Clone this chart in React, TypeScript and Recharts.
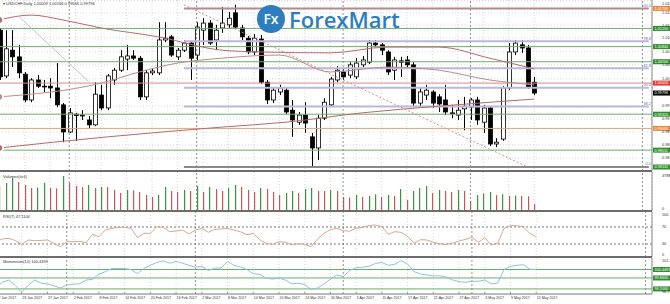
import React from "react";
import {
  ComposedChart,
  Bar,
  Line,
  XAxis,
  YAxis,
  CartesianGrid,
  ReferenceLine,
} from "recharts";

// USDCHF daily bars, 17 Jan 2017 .. 15 May 2017
const tickLabels = [
  "17 Jan 2017", "23 Jan 2017", "27 Jan 2017", "2 Feb 2017", "8 Feb 2017", "14 Feb 2017",
  "20 Feb 2017", "24 Feb 2017", "2 Mar 2017", "8 Mar 2017", "14 Mar 2017", "20 Mar 2017",
  "24 Mar 2017", "30 Mar 2017", "5 Apr 2017", "11 Apr 2017", "17 Apr 2017", "21 Apr 2017",
  "27 Apr 2017", "3 May 2017", "9 May 2017", "15 May 2017",
];

const open = [
  1.0121, 1.0018, 1.0076, 1.0061, 1.0022, 0.9964, 1.0009, 0.9995, 0.9995, 0.9991,
  0.9953, 0.9892, 0.9932, 0.9928, 0.9919, 0.9908, 0.9975, 0.9946, 1.0009, 1.0031,
  1.0056, 1.0063, 1.0058, 0.9971, 1.0025, 1.0025, 1.0099, 1.0106, 1.0061, 1.0076,
  1.0092, 1.0065, 1.0121, 1.0137, 1.0099, 1.0126, 1.0133, 1.016, 1.0126, 1.0103,
  1.0072, 1.0101, 1.0004, 0.9964, 0.9982, 0.9986, 0.9941, 0.9914, 0.993, 0.9881,
  0.9856, 0.9923, 0.9953, 1.0009, 1.0027, 1.002, 1.0016, 1.0043, 1.0049, 1.0092,
  1.0088, 1.0072, 1.0031, 1.0052, 1.0054, 1.0043, 0.9957, 0.9975, 0.9982, 0.9971,
  0.9964, 0.9935, 0.993, 0.9944, 0.9948, 0.9964, 0.9914, 0.9946, 0.9865, 0.9876,
  0.9991, 1.0072, 1.0088, 1.0081, 1.0004,
];
const high = [
  1.0126, 1.0121, 1.0121, 1.0088, 1.0027, 1.0013, 1.002, 1.0009, 1.0013, 1.0047,
  0.9957, 0.9946, 0.9935, 0.9941, 0.9928, 1.0004, 0.9998, 1.0022, 1.0036, 1.0076,
  1.0088, 1.0076, 1.0063, 1.0031, 1.0034, 1.0139, 1.0139, 1.011, 1.0081, 1.0099,
  1.0097, 1.0139, 1.0148, 1.0144, 1.0133, 1.0173, 1.0162, 1.0178, 1.0133, 1.0108,
  1.0112, 1.011, 1.0009, 0.9993, 0.9998, 0.9991, 0.9964, 0.9937, 0.9959, 0.989,
  0.993, 0.9968, 1.0016, 1.004, 1.0036, 1.0049, 1.0058, 1.0063, 1.0099, 1.0099,
  1.0092, 1.0076, 1.0061, 1.0061, 1.0063, 1.0049, 0.9991, 0.9998, 0.9986, 0.9977,
  0.9998, 0.9953, 0.9964, 0.9971, 0.9968, 0.9971, 0.9953, 0.995, 0.9878, 0.9995,
  1.0092, 1.0099, 1.0099, 1.0088, 1.0016,
];
const low = [
  1.0009, 1.0013, 1.0038, 1.0013, 0.9959, 0.9959, 0.9991, 0.9982, 0.9968, 0.9948,
  0.9869, 0.989, 0.9872, 0.9919, 0.9901, 0.9905, 0.9941, 0.9941, 0.9998, 1.0027,
  1.0031, 1.0054, 0.9964, 0.9964, 1.002, 1.002, 1.0094, 1.0061, 1.0054, 1.0072,
  1.0009, 1.0054, 1.0088, 1.0088, 1.0076, 1.0115, 1.0126, 1.0124, 1.0099, 1.0067,
  1.0065, 1.0, 0.9955, 0.9957, 0.9975, 0.9932, 0.9881, 0.9908, 0.989, 0.9813,
  0.9829, 0.9919, 0.9948, 1.0004, 1.0009, 1.0013, 1.0011, 1.0038, 1.0045, 1.0083,
  1.0065, 1.002, 1.0009, 1.0016, 1.0036, 0.995, 0.995, 0.9964, 0.9946, 0.9937,
  0.993, 0.9923, 0.9919, 0.9896, 0.9919, 0.9908, 0.989, 0.986, 0.9858, 0.9872,
  0.9986, 1.0065, 1.007, 0.9989, 0.9975,
];
const close = [
  1.0016, 1.0079, 1.0061, 1.0025, 0.9964, 1.0009, 0.9995, 0.9994, 0.9991, 0.9953,
  0.9892, 0.9935, 0.9929, 0.993, 0.9908, 0.9977, 0.9946, 1.0018, 1.0031, 1.0061,
  1.0063, 1.0058, 0.9971, 1.0025, 1.0029, 1.0099, 1.0103, 1.0065, 1.0076, 1.0092,
  1.0058, 1.0128, 1.0137, 1.0092, 1.0121, 1.0137, 1.0148, 1.0128, 1.0106, 1.0072,
  1.0103, 1.0004, 0.9964, 0.9986, 0.9991, 0.9937, 0.9919, 0.993, 0.9912, 0.9856,
  0.9923, 0.9959, 1.0011, 1.0031, 1.0016, 1.0043, 1.0047, 1.0054, 1.0092, 1.0088,
  1.0076, 1.0027, 1.0054, 1.0049, 1.0043, 0.9957, 0.9982, 0.9986, 0.9957, 0.9955,
  0.9937, 0.9934, 0.9941, 0.995, 0.9964, 0.9919, 0.9946, 0.9865, 0.9869, 0.9991,
  1.0072, 1.0092, 1.0081, 0.9993, 0.99796,
];

const volume = [
  31000, 35300, 41600, 36500, 32800, 29000, 29500, 35300, 29000, 28500,
  44000, 35300, 31500, 30200, 32800, 29000, 30200, 30000, 26500, 22700,
  26500, 26000, 23900, 20200, 17600, 20200, 30200, 25200, 23900, 26500,
  25200, 31500, 23900, 30200, 27700, 25200, 29000, 32800, 30200, 26500,
  23900, 29000, 27700, 23900, 20200, 22700, 25200, 22700, 27700, 29000,
  25200, 25200, 26500, 25200, 17600, 17000, 20200, 17600, 18900, 21000,
  17600, 20200, 18900, 27700, 14000, 25200, 29000, 31500, 22700, 26500,
  25200, 24000, 26500, 25200, 12600, 20000, 22000, 24000, 20000, 21000,
  19000, 19500, 19000, 18500, 8800,
];

const rsi7 = [
  35.5, 41.8, 43.4, 38, 29.1, 39.4, 37.8, 38.5, 39.4, 31.6,
  23.7, 35.5, 35.5, 36, 33.1, 52.7, 47.2, 62.9, 66.9, 69.2,
  69.2, 66.9, 44.9, 55.1, 55.1, 70.8, 69.2, 59, 60.6, 62.9,
  53.5, 62.9, 66.9, 57.5, 64.5, 65.3, 66.9, 62.9, 59, 52,
  55, 40, 31.6, 29.1, 35.5, 34, 27.6, 30.8, 29.1, 23.7,
  41.8, 55.1, 63.7, 66.9, 61.4, 60, 66.9, 69.2, 73.2, 74.8,
  70.8, 52.7, 59, 57.5, 48.1, 31.6, 40.2, 39.4, 34, 30.8,
  28.4, 32.3, 37, 40.9, 45.6, 34, 44.9, 27.6, 31.6, 66.9,
  73.2, 73.2, 70, 55.1, 47.1104,
];

const momentum14 = [
  99.23, 99.56, 99.72, 99.34, 98.89, 99.34, 99.72, 99.5, 99.45, 99.32,
  99.16, 99.36, 99.43, 99.45, 99.72, 99.76, 100.12, 100.3, 100.52, 100.52,
  100.52, 100.45, 100.16, 100.52, 100.74, 100.94, 101.05, 100.89, 101.01, 100.89,
  100.74, 100.61, 100.67, 100.38, 100.54, 100.56, 101.01, 100.74, 100.63, 100.45,
  100.16, 100.12, 99.85, 99.78, 99.85, 99.72, 99.45, 99.5, 99.41, 99.05,
  99.16, 99.45, 99.78, 100.07, 99.96, 100.38, 100.58, 100.61, 100.67, 100.87,
  100.94, 100.74, 100.81, 101.07, 100.83, 100.3, 100.14, 100.07, 100.01, 100.01,
  99.92, 99.72, 99.61, 99.56, 99.63, 99.63, 99.72, 99.45, 99.5, 100.45,
  100.67, 100.74, 100.78, 100.47, 100.4499,
];

// moving averages and drawn lines, read at a few bars
const maSlowIdx = [0, 5, 10, 16, 25, 35, 41, 52, 61, 69, 77, 84];
const maSlowVal = [1.0144, 1.0155, 1.0144, 1.0126, 1.0106, 1.0076, 1.0072, 1.007, 1.0083, 1.0083, 1.0058, 1.0034];
const maMidIdx = [0, 16, 22, 28, 35, 44, 52, 61, 69, 77, 84];
const maMidVal = [0.9971, 1.0002, 1.0027, 1.0047, 1.0058, 1.0065, 1.0027, 1.0038, 1.0031, 1.0009, 0.9998];
const maLongIdx = [0, 17, 35, 45, 57, 69, 84];
const maLongVal = [0.9856, 0.9881, 0.9903, 0.9914, 0.9935, 0.995, 0.9966];
const greyIdx = [3, 14];
const greyVal = [1.0153, 1.0006];
const trendIdx = [29, 83];
const trendVal = [1.0178, 0.9813];

// levels
const greenLevels = [1.0125, 1.0084, 1.005, 0.9932, 0.98511];
const fibLevels = [
  { name: "100.0", v: 1.017 },
  { name: "78.6", v: 1.0096 },
  { name: "61.8", v: 1.00355 },
  { name: "50.0", v: 0.99916 },
  { name: "38.2", v: 0.99495 },
  { name: "0.0", v: 0.98132 },
];
const priceTicks = [1.0187, 1.01595, 1.0132, 1.01035, 1.00725, 1.0043, 1.00115, 0.99505, 0.9921, 0.9892, 0.9863, 0.98335];
const separators = [11, 31, 54, 74, 101];
const momLevels = [99.86, 99.1];

const SLOTS = 103;
const FIB_START = 29;

const toMap = (idx: number[], val: number[]) => new Map(idx.map((k, j) => [k, val[j]]));
const maSlow = toMap(maSlowIdx, maSlowVal);
const maMid = toMap(maMidIdx, maMidVal);
const maLong = toMap(maLongIdx, maLongVal);
const grey = toMap(greyIdx, greyVal);
const trend = toMap(trendIdx, trendVal);

const rows = Array.from({ length: SLOTS }, (_, i) => ({
  i,
  o: open[i],
  h: high[i],
  l: low[i],
  c: close[i],
  v: volume[i],
  up: i > 0 && volume[i] > volume[i - 1],
  rsi: rsi7[i],
  mom: momentum14[i],
  maSlow: maSlow.get(i) ?? null,
  maMid: maMid.get(i) ?? null,
  maLong: maLong.get(i) ?? null,
  grey: grey.get(i) ?? null,
  trend: trend.get(i) ?? null,
}));

const tickIdx = tickLabels.map((_, k) => k * 4);
const W = 674;
const AXIS_W = 18;
const FONT = "'Liberation Sans', Arial, sans-serif";
const FS = 3.8;

const Candle = (props: any) => {
  const { x, y, width, height, payload } = props;
  if (payload == null || payload.h == null) return null;
  const { o, h, l, c } = payload;
  const top = Math.min(y, y + height);
  const bot = Math.max(y, y + height);
  const span = h - l || 1e-9;
  const py = (v: number) => top + ((h - v) / span) * (bot - top);
  const cx = Math.round(x + width / 2) + 0.5;
  const b1 = py(Math.max(o, c));
  const b2 = py(Math.min(o, c));
  const up = c >= o;
  return (
    <g>
      <line x1={cx} x2={cx} y1={top} y2={bot} stroke="#000" strokeWidth={1} />
      <rect
        x={cx - 2}
        y={b1}
        width={4}
        height={Math.max(b2 - b1, 0.8)}
        fill={up ? "#fff" : "#000"}
        stroke="#000"
        strokeWidth={0.8}
      />
    </g>
  );
};

const VolBar = (props: any) => {
  const { x, y, width, height, payload } = props;
  if (payload == null || payload.v == null) return null;
  const cx = Math.round(x + width / 2);
  return <rect x={cx} y={y} width={1.2} height={height} fill={payload.up ? "#3a963a" : "#c45858"} />;
};

// axis text; the extreme labels are pulled inside the pane
const AxisText = (props: any) => {
  const { x, y, payload, fmt, top, bottom } = props;
  let dy = 1.4;
  if (top != null && payload.value === top) dy = 3.8;
  if (bottom != null && payload.value === bottom) dy = -0.8;
  return (
    <text x={x + 2} y={y + dy} fontSize={FS} fill="#333" fontFamily={FONT}>
      {fmt ? fmt(payload.value) : payload.value}
    </text>
  );
};

const Tag = (props: any) => {
  const { viewBox, text, bg, fg } = props;
  if (!viewBox) return null;
  const lx = viewBox.x + viewBox.width + 1;
  return (
    <g>
      <rect x={lx} y={viewBox.y - 2.5} width={19} height={5} fill={bg} />
      <text x={lx + 1.5} y={viewBox.y + 1.4} fontSize={FS} fill={fg} fontFamily={FONT}>
        {text}
      </text>
    </g>
  );
};

const FibText = (props: any) => {
  const { viewBox, text } = props;
  if (!viewBox) return null;
  return (
    <text
      x={viewBox.x + viewBox.width + 2}
      y={viewBox.y - 1.5}
      fontSize={FS}
      textAnchor="end"
      fill="#6a6aa8"
      fontFamily={FONT}
    >
      {text}
    </text>
  );
};

const DateTick = (props: any) => {
  const { x, y, payload } = props;
  return (
    <g>
      <line x1={x} x2={x} y1={y - 2} y2={y} stroke="#666" strokeWidth={0.6} />
      <text x={x + 0.5} y={y + 4.5} fontSize={3.6} fill="#333" fontFamily={FONT}>
        {tickLabels[payload.value / 4]}
      </text>
    </g>
  );
};

const Separators = () =>
  separators.map((s) => (
    <ReferenceLine key={s} x={s} stroke="#777" strokeDasharray="2 2" strokeWidth={0.8} />
  ));

const hiddenX = (
  <XAxis dataKey="i" type="category" ticks={tickIdx} interval={0} hide />
);

const MainPanel = () => (
  <ComposedChart width={W} height={171} data={rows} margin={{ top: 0, right: 0, bottom: 0, left: 0 }}>
    <CartesianGrid stroke="#c8c8c8" strokeDasharray="1 2" strokeWidth={0.7} />
    {hiddenX}
    <YAxis
      orientation="right"
      width={AXIS_W}
      domain={[0.98042, 1.01889]}
      allowDataOverflow
      ticks={priceTicks}
      interval={0}
      tickLine={false}
      axisLine={{ stroke: "#888" }}
      tick={<AxisText fmt={(v: number) => v.toFixed(5)} top={1.0187} />}
    />
    {Separators()}
    {fibLevels.map((f) => (
      <ReferenceLine
        key={f.name}
        segment={[{ x: FIB_START, y: f.v }, { x: SLOTS - 1, y: f.v }]}
        stroke={f.name === "100.0" ? "#b08c8c" : f.name === "0.0" ? "#8a8a8a" : "#b9b9de"}
        strokeWidth={2}
        label={<FibText text={f.name} />}
      />
    ))}
    {greenLevels.map((v) => (
      <ReferenceLine
        key={v}
        y={v}
        stroke="#6aae6a"
        strokeWidth={1}
        label={<Tag text={v.toFixed(5)} bg="#2f8f2f" fg="#fff" />}
      />
    ))}
    <ReferenceLine y={1.0002} stroke="#d48a8a" strokeWidth={1} label={<Tag text="1.00020" bg="#e03a3a" fg="#fff" />} />
    <ReferenceLine y={0.99} stroke="#e0a57a" strokeWidth={1} label={<Tag text="0.99000" bg="#e88a3a" fg="#fff" />} />
    <ReferenceLine y={1.017} stroke="none" label={<Tag text="1.01700" bg="#e88a3a" fg="#fff" />} />
    <ReferenceLine y={0.98132} stroke="none" label={<Tag text="0.98132" bg="#2f8f2f" fg="#fff" />} />
    <ReferenceLine y={0.99796} stroke="none" label={<Tag text="0.99796" bg="#000" fg="#fff" />} />
    <Line dataKey="maSlow" stroke="#b86a6a" strokeWidth={1} dot={false} connectNulls type="monotone" isAnimationActive={false} />
    <Line dataKey="maMid" stroke="#c08a8a" strokeWidth={1} dot={false} connectNulls type="monotone" isAnimationActive={false} />
    <Line dataKey="maLong" stroke="#b86a6a" strokeWidth={1} dot={false} connectNulls type="monotone" isAnimationActive={false} />
    <Line dataKey="grey" stroke="#c4c4c4" strokeWidth={1} dot={false} connectNulls isAnimationActive={false} />
    <Line dataKey="trend" stroke="#d09090" strokeWidth={1} strokeDasharray="2 2" dot={false} connectNulls isAnimationActive={false} />
    <Bar
      dataKey={(d: any) => (d.h == null ? undefined : [d.l, d.h])}
      shape={<Candle />}
      barSize={5}
      isAnimationActive={false}
    />
  </ComposedChart>
);

const VolumePanel = () => (
  <ComposedChart width={W} height={39} data={rows} margin={{ top: 0, right: 0, bottom: 0, left: 0 }}>
    <CartesianGrid stroke="#c8c8c8" strokeDasharray="1 2" strokeWidth={0.7} horizontal={false} />
    {hiddenX}
    <YAxis
      orientation="right"
      width={AXIS_W}
      domain={[0, 49100]}
      ticks={[0, 47882]}
      interval={0}
      tickLine={false}
      axisLine={{ stroke: "#888" }}
      tick={<AxisText top={47882} bottom={0} />}
    />
    {Separators()}
    <Bar dataKey="v" shape={<VolBar />} isAnimationActive={false} />
  </ComposedChart>
);

const RsiPanel = () => (
  <ComposedChart width={W} height={45} data={rows} margin={{ top: 0, right: 0, bottom: 0, left: 0 }}>
    <CartesianGrid stroke="#c8c8c8" strokeDasharray="1 2" strokeWidth={0.7} horizontal={false} />
    {hiddenX}
    <YAxis
      orientation="right"
      width={AXIS_W}
      domain={[-0.6, 105.3]}
      ticks={[0, 30, 70, 100]}
      interval={0}
      tickLine={false}
      axisLine={{ stroke: "#888" }}
      tick={<AxisText bottom={0} />}
    />
    {Separators()}
    <ReferenceLine y={70} stroke="#555" strokeDasharray="2 2" strokeWidth={0.8} />
    <ReferenceLine y={30} stroke="#555" strokeDasharray="2 2" strokeWidth={0.8} />
    <Line dataKey="rsi" stroke="#d9a88f" strokeWidth={1} dot={false} type="linear" isAnimationActive={false} />
  </ComposedChart>
);

const MomentumPanel = () => (
  <ComposedChart width={W} height={46} data={rows} margin={{ top: 0, right: 0, bottom: 0, left: 0 }}>
    <CartesianGrid stroke="#c8c8c8" strokeDasharray="1 2" strokeWidth={0.7} horizontal={false} />
    <XAxis
      dataKey="i"
      type="category"
      ticks={tickIdx}
      interval={0}
      height={10}
      tickLine={false}
      tickSize={0}
      tickMargin={0}
      axisLine={{ stroke: "#777" }}
      tick={<DateTick />}
    />
    <YAxis
      orientation="right"
      width={AXIS_W}
      domain={[98.7468, 101.2488]}
      ticks={[98.7468, 101.2488]}
      interval={0}
      tickLine={false}
      axisLine={{ stroke: "#888" }}
      tick={<AxisText fmt={(v: number) => v.toFixed(4)} top={101.2488} bottom={98.7468} />}
    />
    {Separators()}
    {momLevels.map((v) => (
      <ReferenceLine key={v} y={v} stroke="#6aae6a" strokeWidth={1} label={<Tag text={v.toFixed(4)} bg="#2f8f2f" fg="#fff" />} />
    ))}
    <ReferenceLine y={100.4499} stroke="#6aae6a" strokeWidth={1} label={<Tag text="100.4499" bg="#2f8f2f" fg="#fff" />} />
    <Line dataKey="mom" stroke="#8fc3d6" strokeWidth={1} dot={false} type="linear" isAnimationActive={false} />
  </ComposedChart>
);

const panelLabel = (top: number, text: string) => (
  <div
    style={{
      position: "absolute",
      left: 3,
      top,
      fontSize: 4,
      lineHeight: "5px",
      color: "#333",
      fontFamily: FONT,
      whiteSpace: "nowrap",
    }}
  >
    {text}
  </div>
);

const rule = (top: number) => (
  <div style={{ position: "absolute", left: 0, top, width: 652, height: 2, background: "#6d6d6d" }} />
);

export default function App() {
  return (
    <div style={{ position: "relative", width: 670, height: 304, overflow: "hidden", background: "#fff" }}>
      <style>{`body{margin:0}`}</style>
      <div style={{ position: "absolute", left: -4, top: 0 }}>
        <MainPanel />
      </div>
      <div style={{ position: "absolute", left: -4, top: 172 }}>
        <VolumePanel />
      </div>
      <div style={{ position: "absolute", left: -4, top: 212 }}>
        <RsiPanel />
      </div>
      <div style={{ position: "absolute", left: -4, top: 258 }}>
        <MomentumPanel />
      </div>
      {rule(170)}
      {rule(210)}
      {rule(256)}
      {panelLabel(1, "\u25BE USDCHF,Daily  1.00009 1.00166 0.99566 0.99796")}
      {panelLabel(174, "Volumes(tick)")}
      {panelLabel(214, "RSI(7) 47.1104")}
      {panelLabel(259, "Momentum(14) 100.4499")}
      <div style={{ position: "absolute", left: 256, top: 4, display: "flex", alignItems: "center" }}>
        <svg width={30} height={30}>
          <circle cx={15} cy={15} r={14} fill="#2d7dc1" />
          <text x={15} y={20} fontSize={14} fill="#fff" textAnchor="middle" fontFamily="'Open Sans', sans-serif" fontWeight={600}>
            Fx
          </text>
        </svg>
        <span
          style={{
            marginLeft: 3,
            fontSize: 22,
            color: "#2d7dc1",
            fontFamily: "'Open Sans', sans-serif",
            fontWeight: 600,
            letterSpacing: 0,
          }}
        >
          ForexMart
        </span>
      </div>
    </div>
  );
}
